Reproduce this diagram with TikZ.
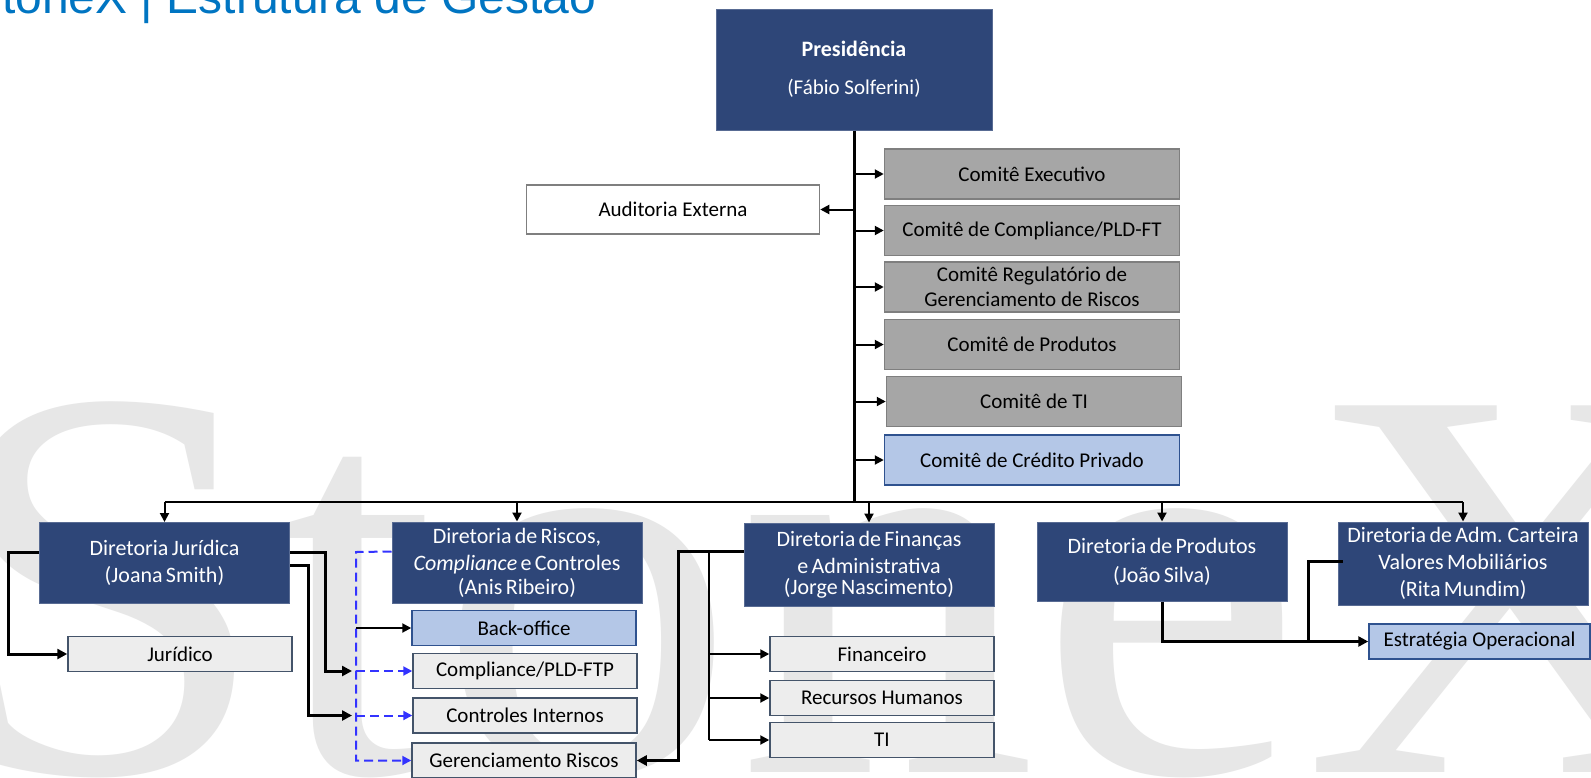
\documentclass[tikz,border=0pt]{standalone}
\usepackage{fontspec}
\setmainfont{Carlito}
\newfontfamily\headfont{Liberation Sans}
\newfontfamily\markfont{Liberation Serif}
\usepackage{graphicx}
\usepackage{xcolor}
\usepackage{tikz}
\usetikzlibrary{arrows.meta}

\definecolor{navy}{RGB}{46,70,120}
\definecolor{cgray}{RGB}{166,166,166}
\definecolor{cedge}{RGB}{127,127,127}
\definecolor{lblue}{RGB}{180,199,231}
\definecolor{lbedge}{RGB}{47,82,143}
\definecolor{sgray}{RGB}{237,237,237}
\definecolor{sedge}{RGB}{68,84,106}
\definecolor{dashblue}{RGB}{51,51,255}
\definecolor{wmgray}{RGB}{231,231,231}
\definecolor{headblue}{RGB}{0,117,194}

\tikzset{
  presbox/.style={fill=navy, draw=navy!80!white, line width=1pt, text=white,
    align=center, inner sep=0pt, minimum width=276pt, minimum height=121pt,
    font={\fontsize{21}{27}\selectfont}},
  dirbox/.style={fill=navy, draw=navy!80!white, line width=1pt, text=white,
    align=center, inner sep=0pt, minimum width=250pt, minimum height=81pt,
    font={\fontsize{22}{27}\selectfont\spaceskip=.15em plus .05em\relax}},
  cbox/.style={fill=cgray, draw=cedge, line width=1.5pt, align=center,
    inner sep=0pt, minimum width=295pt, minimum height=50pt,
    font={\fontsize{21}{25}\selectfont}},
  credbox/.style={cbox, fill=lblue, draw=lbedge},
  audbox/.style={cbox, fill=white, minimum width=293pt, minimum height=49pt},
  subbox/.style={fill=sgray, draw=sedge, line width=1.5pt, inner sep=0pt,
    minimum width=224pt, minimum height=35pt, font={\fontsize{21}{25}\selectfont}},
  backbox/.style={subbox, fill=lblue, draw=lbedge},
  conn/.style={line width=2pt, -{Triangle[length=9pt,width=9pt]}},
  heavyconn/.style={line width=3pt, -{Triangle[length=10pt,width=10pt]}},
  bluedashed/.style={draw=dashblue, line width=2pt, dash pattern=on 9pt off 5pt,
    -{Triangle[length=9pt,width=9pt]}}
}

\begin{document}
\begin{tikzpicture}[x=1pt,y=-1pt]
  \useasboundingbox (0,0) rectangle (1591,777);
  \fill[white] (0,0) rectangle (1591,777);
  % watermark and heading
  \node[anchor=base west, inner sep=0pt, text=wmgray,
    font={\markfont\fontsize{560}{600}\selectfont}] (mark) at (-62,772)
    {\scalebox{1.07}[1]{StoneX}};
  \node[anchor=base west, inner sep=0pt, text=headblue,
    font={\headfont\fontsize{48}{56}\selectfont}] (head) at (-30,13)
    {StoneX | Estrutura de Gestão};

  % top
  \node[presbox] (pres) at (854,69.5) {{\bfseries\fontsize{22}{27}\selectfont Presidência}\\[11pt](Fábio Solferini)};
  \node[audbox] (audit) at (673,209.5) {Auditoria Externa};
  \node[cbox] (cexec) at (1032,174) {Comitê Executivo};
  \node[cbox] (ccomp) at (1032,230.5) {Comitê de Compliance/PLD-FT};
  \node[cbox] (creg) at (1032,287) {Comitê Regulatório de\\Gerenciamento de Riscos};
  \node[cbox] (cprod) at (1032,344.5) {Comitê de Produtos};
  \node[cbox] (cti) at (1034,401.5) {Comitê de TI};
  \node[credbox] (ccred) at (1032,460) {Comitê de Crédito Privado};

  % diretorias
  \node[dirbox] (djur) at (164.5,563) {Diretoria Jurídica\\(Joana Smith)};
  \node[dirbox] (dris) at (517,562.5) {Diretoria de Riscos,\\\textit{Compliance} e Controles\\[-3pt](Anis Ribeiro)};
  \node[dirbox, minimum height=83pt] (dfin) at (869,564.5) {Diretoria de Finanças\\e Administrativa\\[-6pt](Jorge Nascimento)};
  \node[dirbox, minimum height=79pt] (dprod) at (1162,561.5) {Diretoria de Produtos\\[2pt](João Silva)};
  \node[dirbox, minimum height=83pt] (dadm) at (1463,563.5) {Diretoria de Adm. Carteira\\Valores Mobiliários\\(Rita Mundim)};

  % areas
  \node[subbox] (jurid) at (180,654) {Jurídico};
  \node[backbox] (back) at (524,628) {Back-office};
  \node[subbox] (compl) at (525,671) {Compliance/PLD-FTP};
  \node[subbox] (ctrl) at (525,715.5) {Controles Internos};
  \node[subbox] (geren) at (524,760.5) {Gerenciamento Riscos};
  \node[subbox] (finan) at (882,654) {Financeiro};
  \node[subbox] (rh) at (882,698) {Recursos Humanos};
  \node[subbox] (ti) at (882,740) {TI};
  \node[backbox, minimum width=221pt] (estrat) at (1479.5,641.5) {Estratégia Operacional};

  \coordinate (bus) at (854,502);
  \coordinate (rjoin) at (356,552);
  \coordinate (fjoin) at (709,551);
  \coordinate (ajoin) at (1308,642);

  % trunk and bus
  \draw[line width=3pt] (pres.south) -- (bus);
  \foreach \c in {cexec,ccomp,creg,cprod,cti,ccred}
    \draw[conn] (pres.south |- \c.west) -- (\c.west);
  \draw[conn] (pres.south |- audit.east) -- (audit.east);
  \draw[line width=2pt] (djur.north |- bus) -- (dadm.north |- bus);
  \foreach \d in {djur,dris,dfin,dprod,dadm}
    \draw[conn] (\d.north |- bus) -- (\d.north);

  % juridica
  \draw[heavyconn] ([yshift=11pt]djur.west) -- ++(-31,0) |- (jurid.west);
  \draw[heavyconn] ([yshift=11pt]djur.east) -- ++(35,0) |- ([xshift=-4pt]rjoin |- compl.west);
  \draw[heavyconn] ([yshift=-2pt]djur.east) -- ++(18,0) |- ([xshift=-4pt]rjoin |- ctrl.west);

  % riscos
  \draw[bluedashed] ([yshift=11pt]dris.west) -- (rjoin) |- (geren.west);
  \draw[bluedashed] (rjoin |- compl.west) -- (compl.west);
  \draw[bluedashed] (rjoin |- ctrl.west) -- (ctrl.west);
  \draw[conn] (rjoin |- back.west) -- (back.west);

  % financas
  \draw[heavyconn] ([yshift=13pt]dfin.west) -- ++(-65,0) |- (geren.east);
  \draw[line width=2pt] (fjoin) -- (fjoin |- ti.west);
  \foreach \s in {finan,rh,ti}
    \draw[conn] (fjoin |- \s.west) -- (\s.west);

  % produtos / adm
  \draw[heavyconn] (dprod.south) |- (estrat.west);
  \draw[line width=3pt] ([xshift=5pt,yshift=2pt]dadm.west) -| (ajoin);
\end{tikzpicture}
\end{document}
